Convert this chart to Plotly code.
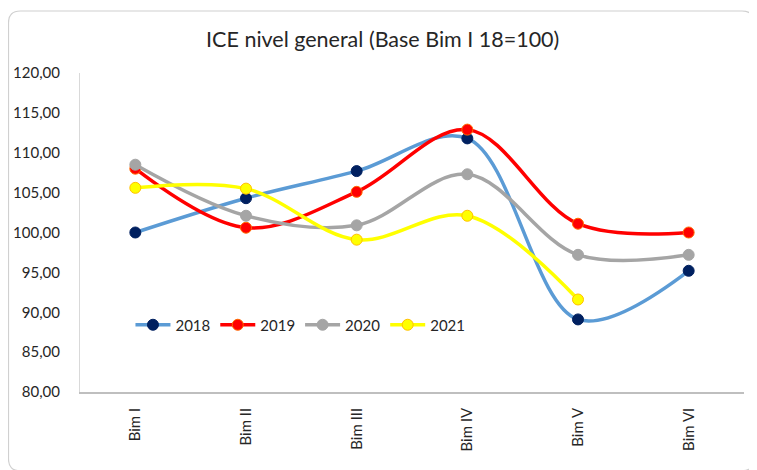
import plotly.graph_objects as go

# datos
bimestres = ["Bim I", "Bim II", "Bim III", "Bim IV", "Bim V", "Bim VI"]
ice_2018 = [100.0, 104.3, 107.7, 111.8, 89.1, 95.2]
ice_2019 = [108.0, 100.6, 105.1, 112.9, 101.1, 100.0]
ice_2020 = [108.5, 102.1, 100.9, 107.3, 97.2, 97.2]
ice_2021 = [105.6, 105.5, 99.1, 102.1, 91.6]

series = [
    ("2018", ice_2018, "#5B9BD5", "#002060", "#002060"),
    ("2019", ice_2019, "#FF0000", "#FF0000", "#FF6A00"),
    ("2020", ice_2020, "#A5A5A5", "#A5A5A5", "#A5A5A5"),
    ("2021", ice_2021, "#FFFF00", "#FFFF00", "#FFC000"),
]

fig = go.Figure()
for nombre, valores, color_linea, color_marca, borde in series:
    fig.add_trace(go.Scatter(
        x=bimestres[:len(valores)],
        y=valores,
        name=nombre,
        mode="lines+markers",
        line=dict(color=color_linea, width=3.5, shape="spline", smoothing=1),
        marker=dict(color=color_marca, size=11, line=dict(color=borde, width=1)),
    ))

# marco redondeado del area del grafico (coordenadas paper)
x0, x1, y0, y1 = -0.1077, 1.0151, -0.247, 1.1944
rx, ry = 0.018, 0.038
marco = (
    f"M {x0 + rx} {y1} L {x1 - rx} {y1} Q {x1} {y1} {x1} {y1 - ry} "
    f"L {x1} {y0 + ry} Q {x1} {y0} {x1 - rx} {y0} "
    f"L {x0 + rx} {y0} Q {x0} {y0} {x0} {y0 + ry} "
    f"L {x0} {y1 - ry} Q {x0} {y1} {x0 + rx} {y1} Z"
)

fig.update_layout(
    width=757,
    height=470,
    margin=dict(l=72, r=21, t=65, b=86),
    paper_bgcolor="white",
    plot_bgcolor="white",
    separators=",.",
    font=dict(family="Lato, Noto Sans, sans-serif", size=15, color="#404040"),
    title=dict(
        text="ICE nivel general (Base Bim I 18=100)",
        x=0.495, xref="container", xanchor="center",
        y=0.932, yanchor="middle",
        font=dict(size=21.5, color="#262626"),
    ),
    xaxis=dict(
        showgrid=False,
        showline=True,
        linecolor="#BFBFBF",
        linewidth=1.5,
        tickangle=-90,
        ticks="",
        ticklabelstandoff=8,
        tickfont=dict(size=15, color="#262626"),
        range=[-0.5, 5.5],
        automargin=False,
    ),
    yaxis=dict(
        range=[80, 120],
        dtick=5,
        tickformat=".2f",
        showgrid=False,
        showline=True,
        linecolor="#D9D9D9",
        linewidth=1,
        zeroline=False,
        ticks="",
        ticklabelstandoff=16,
        tickfont=dict(size=15, color="#262626"),
        automargin=False,
    ),
    legend=dict(
        orientation="h",
        x=0.076, y=0.21,
        xanchor="left", yanchor="middle",
        bgcolor="rgba(0,0,0,0)",
        font=dict(size=15, color="#262626"),
        itemwidth=35,
        tracegroupgap=0,
    ),
    shapes=[dict(
        type="path", path=marco, xref="paper", yref="paper",
        line=dict(color="#D0D0D0", width=1.2), layer="below",
    )],
)

fig.write_html("out.html")
